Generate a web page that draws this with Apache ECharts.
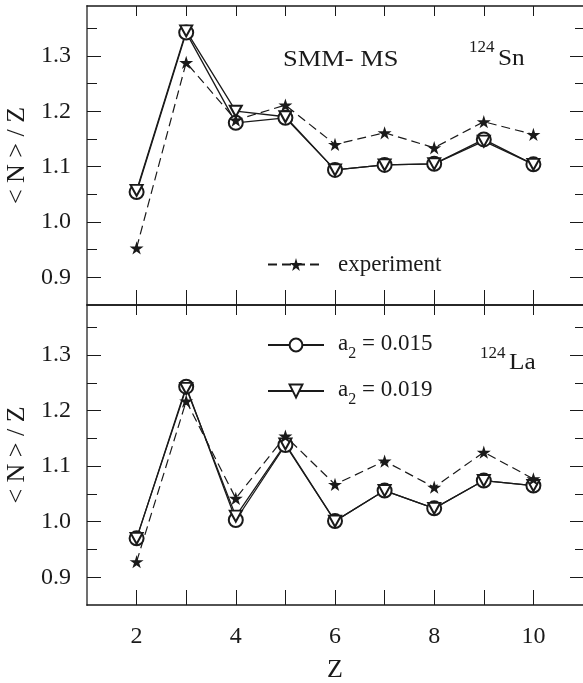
<!DOCTYPE html>
<html><head><meta charset="utf-8">
<script src="https://cdn.jsdelivr.net/npm/echarts@6/dist/echarts.min.js"></script>
<style>html,body{margin:0;padding:0;background:#fff}#c{width:583px;height:683px}</style>
</head><body><div id="c"></div>
<script>
// ---- data ----
const zValues = [2, 3, 4, 5, 6, 7, 8, 9, 10];
const snA015 = [1.054, 1.342, 1.179, 1.188, 1.094, 1.103, 1.105, 1.149, 1.104];
const snA019 = [1.057, 1.345, 1.200, 1.190, 1.094, 1.103, 1.105, 1.146, 1.104];
const snExp  = [0.953, 1.288, 1.184, 1.211, 1.140, 1.161, 1.134, 1.181, 1.158];
const laA015 = [0.970, 1.243, 1.003, 1.138, 1.001, 1.056, 1.024, 1.074, 1.065];
const laA019 = [0.970, 1.240, 1.010, 1.140, 1.001, 1.056, 1.024, 1.074, 1.065];
const laExp  = [0.928, 1.217, 1.042, 1.154, 1.067, 1.109, 1.062, 1.125, 1.077];
const xTickValues = [2, 3, 4, 5, 6, 7, 8, 9, 10];
const xLabelValues = [2, 4, 6, 8, 10];
const yLabelValues = [0.9, 1.0, 1.1, 1.2, 1.3];
const yMinorValues = [0.95, 1.05, 1.15, 1.25, 1.35];
const nameExp = 'experiment';
const nameA015 = 'a2 = 0.015';
const nameA019 = 'a2 = 0.019';

// ---- styling ----
const FONT = '"Liberation Serif", "Times New Roman", serif';
const INK = '#1a1a1a';
const STAR = 'path://M50,0 L61,35 L98,35 L68,57 L79,91 L50,70 L21,91 L32,57 L2,35 L39,35 Z';
const zip = (ys) => zValues.map((x, i) => [x, ys[i]]);

function xAx(grid, pos, len, labels) {
  const a = {
    type: 'value', gridIndex: grid, position: pos, min: 1, max: 11,
    axisLine: { show: true, lineStyle: { color: INK, width: 1.5 } },
    axisTick: { show: true, inside: true, length: len, customValues: xTickValues, lineStyle: { color: INK, width: 1 } },
    axisLabel: { show: false },
    splitLine: { show: false }
  };
  if (labels) {
    a.axisLabel = { show: true, customValues: xLabelValues, margin: 20, fontSize: 24, fontFamily: FONT, color: INK };
    a.name = 'Z';
    a.nameLocation = 'middle';
    a.nameGap = 52;
    a.nameTextStyle = { fontSize: 26, fontFamily: FONT, color: INK };
  }
  return a;
}
function yAx(grid, pos, values, len, opts) {
  opts = opts || {};
  const a = {
    type: 'value', gridIndex: grid, position: pos, min: 0.85, max: 1.39,
    axisLine: { show: !!opts.line, lineStyle: { color: '#707070', width: 2 } },
    axisTick: { show: true, inside: true, length: len, customValues: values, lineStyle: { color: INK, width: 1 } },
    axisLabel: { show: false },
    splitLine: { show: false }
  };
  if (opts.labels) {
    a.axisLabel = { show: true, customValues: yLabelValues, margin: 16, fontSize: 24, fontFamily: FONT, color: INK,
      formatter: v => v.toFixed(1) };
    a.name = '< N > / Z';
    a.nameLocation = 'middle';
    a.nameRotate = 90;
    a.nameGap = 51;
    a.nameTextStyle = { fontSize: 26, fontFamily: FONT, color: INK };
  }
  return a;
}
function modelSeries(name, ys, xi, yi, symbol, size, rotate) {
  return {
    type: 'line', name: name, xAxisIndex: xi, yAxisIndex: yi, data: zip(ys),
    symbol: symbol, symbolSize: size, symbolRotate: rotate || 0,
    lineStyle: { color: INK, width: 1.3 },
    itemStyle: { color: INK, borderColor: INK, borderWidth: 1.1 },
    emphasis: { disabled: true }, animation: false, z: 2
  };
}
function expSeries(ys, xi, yi) {
  return {
    type: 'line', name: nameExp, xAxisIndex: xi, yAxisIndex: yi, data: zip(ys),
    symbol: STAR, symbolSize: 14, symbolKeepAspect: true,
    lineStyle: { color: INK, width: 1.2, type: [9, 5] },
    itemStyle: { color: INK },
    emphasis: { disabled: true }, animation: false, z: 3
  };
}
const subFmt = (name) => {
  const m = name.match(/^a2(.*)$/);
  return m ? '{p|a}{s|2}{a|' + m[1] + '}' : '{a|' + name + '}';
};
const legendRich = {
  p: { fontSize: 23, fontFamily: FONT, color: INK, lineHeight: 26, verticalAlign: 'top', padding: [0, 0, 0, 9] },
  a: { fontSize: 23, fontFamily: FONT, color: INK, lineHeight: 26, verticalAlign: 'top' },
  s: { fontSize: 16, fontFamily: FONT, color: INK, lineHeight: 16, padding: [14, 0, 0, 0], verticalAlign: 'top' }
};
const txt = (s, left, top, size, extra) => Object.assign({
  type: 'text', left: left, top: top, silent: true,
  style: { text: s, font: size + 'px ' + FONT, fill: INK }
}, extra || {});

const option = {
  backgroundColor: '#fff',
  animation: false,
  grid: [
    { left: 87, right: 0, top: 6, height: 299, outerBoundsMode: 'none', containLabel: false },
    { left: 87, right: 0, top: 305, height: 300, outerBoundsMode: 'none', containLabel: false }
  ],
  xAxis: [
    xAx(0, 'bottom', 15, false), xAx(0, 'top', 10, false),
    xAx(1, 'bottom', 15, true), xAx(1, 'top', 10, false)
  ],
  yAxis: [
    yAx(0, 'left', yLabelValues, 14, { line: true, labels: true }),
    yAx(0, 'left', yMinorValues, 10),
    yAx(0, 'right', yLabelValues, 13),
    yAx(0, 'right', yMinorValues, 8),
    yAx(1, 'left', yLabelValues, 14, { line: true, labels: true }),
    yAx(1, 'left', yMinorValues, 10),
    yAx(1, 'right', yLabelValues, 13),
    yAx(1, 'right', yMinorValues, 8)
  ],
  legend: [
    { data: [nameExp], left: 262, top: 248, itemWidth: 56, itemHeight: 16, selectedMode: false,
      formatter: n => '{a|' + n + '}', textStyle: { rich: { a: { fontSize: 23, fontFamily: FONT, color: INK, padding: [0, 0, 0, 9] } } } },
    { data: [nameA015, nameA019], orient: 'vertical', left: 262, top: 327, itemGap: 16, itemWidth: 56, itemHeight: 16, selectedMode: false,
      formatter: subFmt, textStyle: { rich: legendRich } }
  ],
  graphic: [
    txt('SMM- MS', 283, 48, 23, { scaleX: 1.15 }),
    txt('124', 469, 39, 17),
    txt('Sn', 498, 47, 23, { scaleX: 1.1 }),
    txt('124', 480, 345, 17),
    txt('La', 509, 351, 23, { scaleX: 1.1 })
  ],
  series: [
    modelSeries(nameA015, snA015, 0, 0, 'emptyCircle', 14),
    modelSeries(nameA019, snA019, 0, 0, 'emptyTriangle', [12, 11], 180),
    expSeries(snExp, 0, 0),
    modelSeries(nameA015, laA015, 2, 4, 'emptyCircle', 14),
    modelSeries(nameA019, laA019, 2, 4, 'emptyTriangle', [12, 11], 180),
    expSeries(laExp, 2, 4)
  ]
};
const chart = echarts.init(document.getElementById('c'), null, { renderer: 'canvas' });
chart.setOption(option);
</script></body></html>
